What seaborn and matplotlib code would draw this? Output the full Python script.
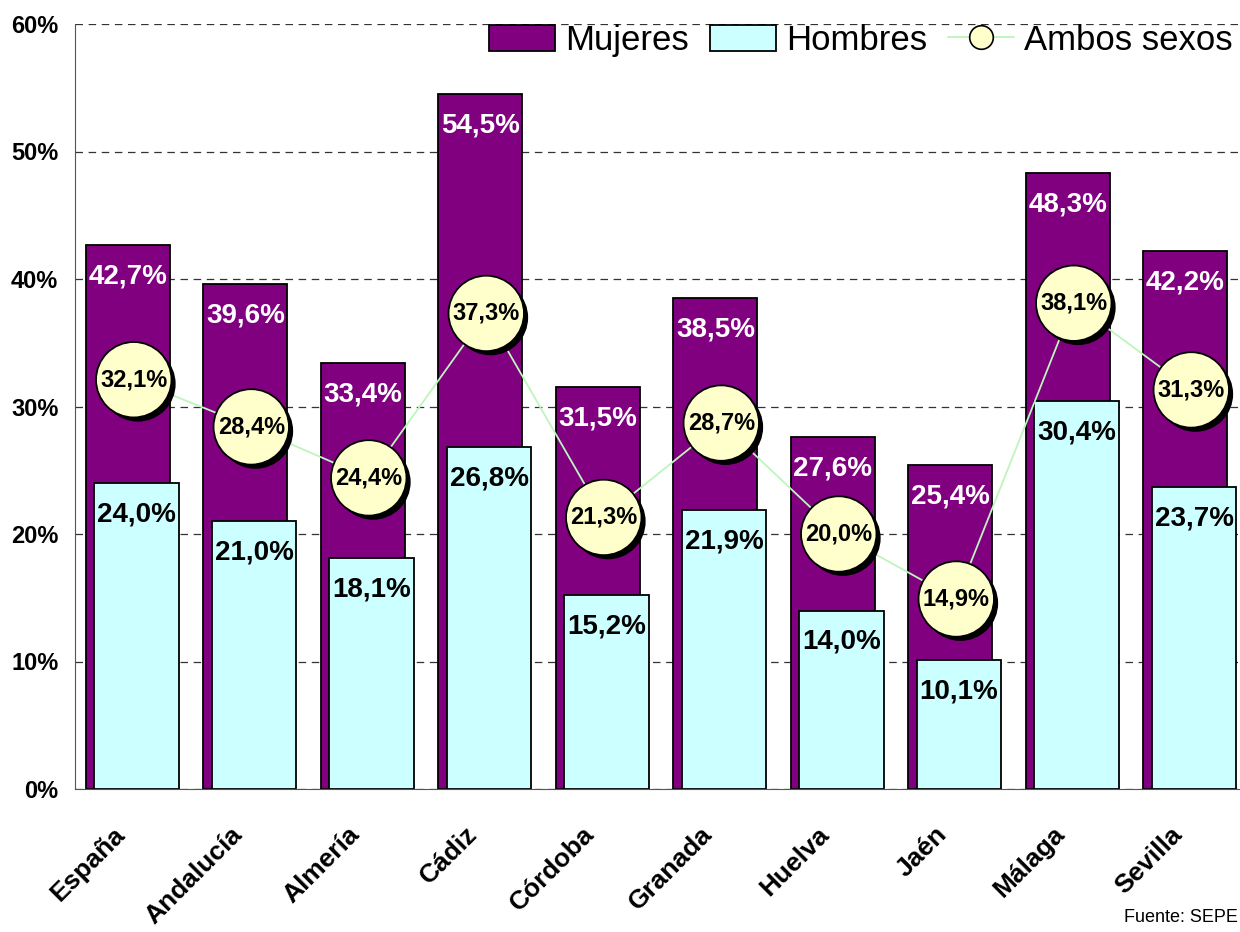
import numpy as np
import pandas as pd
import matplotlib
matplotlib.use('Agg')
import matplotlib.pyplot as plt
import matplotlib.patheffects as pe
import matplotlib.transforms as mtrans
from matplotlib.ticker import FixedLocator, FuncFormatter
from matplotlib.patches import Patch
from matplotlib.lines import Line2D
import seaborn as sns

# Datos (tasa por provincia)
provincias = ['España', 'Andalucía', 'Almería', 'Cádiz', 'Córdoba',
              'Granada', 'Huelva', 'Jaén', 'Málaga', 'Sevilla']
mujeres = [42.7, 39.6, 33.4, 54.5, 31.5, 38.5, 27.6, 25.4, 48.3, 42.2]
hombres = [24.0, 21.0, 18.1, 26.8, 15.2, 21.9, 14.0, 10.1, 30.4, 23.7]
ambos = [32.1, 28.4, 24.4, 37.3, 21.3, 28.7, 20.0, 14.9, 38.1, 31.3]

sns.set_style('white')
plt.rcParams['font.family'] = ['Liberation Sans', 'DejaVu Sans']
plt.rcParams['text.color'] = 'black'
plt.rcParams['xtick.color'] = 'black'
plt.rcParams['ytick.color'] = 'black'

pos = np.arange(len(provincias))
df = pd.DataFrame({'prov': provincias, 'pos': pos, 'Mujeres': mujeres,
                   'Hombres': hombres, 'Ambos': ambos})

fig = plt.figure(figsize=(12.4, 9.32), dpi=100)
ax = fig.add_axes([75 / 1240, 1 - 789 / 932, 1175 / 1240, 765 / 932])


def fmt(v):
    return f'{v:.1f}%'.replace('.', ',')


# barras Mujeres (detras) y Hombres (delante, desplazadas)
sns.barplot(x=df['pos'] - 0.049, y=df['Mujeres'], native_scale=True, width=0.715,
            color='#800080', saturation=1, edgecolor='black', linewidth=1.3, ax=ax)
sns.barplot(x=df['pos'] + 0.024, y=df['Hombres'], native_scale=True, width=0.72,
            color='#CCFFFF', saturation=1, edgecolor='black', linewidth=1.3, ax=ax)

ax.bar_label(ax.containers[0], labels=[fmt(v) for v in mujeres], padding=-32,
             color='white', fontweight='bold', fontsize=20)
ax.bar_label(ax.containers[1], labels=[fmt(v) for v in hombres], padding=-32,
             color='black', fontweight='bold', fontsize=20)

# linea Ambos sexos
sns.lineplot(x=df['pos'], y=df['Ambos'], color='#BDF5BD', linewidth=1.3, ax=ax,
             zorder=4)
sc = ax.scatter(df['pos'], df['Ambos'], s=2950, color='#FFFFCC', edgecolor='black',
                linewidth=1.3, zorder=5)
sc.set_path_effects([pe.SimplePatchShadow(offset=(3, -3), shadow_rgbFace='black',
                                          alpha=1), pe.Normal()])
for x, v in zip(pos, ambos):
    ax.text(x, v, fmt(v), ha='center', va='center', fontsize=17,
            fontweight='bold', color='black', zorder=6)

# ejes
ax.set_xlim(-0.5, 9.5)
ax.set_ylim(0, 60)
ax.set_yticks(range(0, 61, 10))
ax.yaxis.set_major_formatter(FuncFormatter(lambda y, _: f'{y:.0f}%'))
ax.tick_params(axis='y', length=8, width=1, color='#555555', direction='out',
               labelsize=17, labelcolor='black', pad=4)
for t in ax.get_yticklabels():
    t.set_fontweight('bold')

ax.xaxis.set_major_locator(FixedLocator(pos - 0.5))
ax.xaxis.set_major_formatter(FuncFormatter(lambda x, _: ''))
ax.xaxis.set_minor_locator(FixedLocator(pos))
ax.set_xticklabels(provincias, minor=True)
ax.tick_params(axis='x', which='major', length=8, width=1, color='#555555',
               direction='out')
ax.tick_params(axis='x', which='minor', length=0, pad=30, labelsize=19,
               labelcolor='black')
shift = mtrans.ScaledTranslation(-0.13, 0, fig.dpi_scale_trans)
for t in ax.get_xticklabels(minor=True):
    t.set_rotation(45)
    t.set_ha('right')
    t.set_va('center')
    t.set_rotation_mode('anchor')
    t.set_fontweight('bold')
    t.set_transform(t.get_transform() + shift)
ax.set_xlabel('')
ax.set_ylabel('')

ax.yaxis.grid(True, linestyle=(0, (6, 4.5)), color='#333333', linewidth=0.9)
ax.set_axisbelow(True)
sns.despine(ax=ax, top=True, right=True)
ax.spines['left'].set_color('#555555')
ax.spines['bottom'].set_color('#555555')

# leyenda
handles = [Patch(facecolor='#800080', edgecolor='black', linewidth=1.3),
           Patch(facecolor='#CCFFFF', edgecolor='black', linewidth=1.3),
           Line2D([], [], color='#BDF5BD', linewidth=1.3, marker='o',
                  markersize=17, markerfacecolor='#FFFFCC',
                  markeredgecolor='black', markeredgewidth=1.2)]
leg = fig.legend(handles, ['Mujeres', 'Hombres', 'Ambos sexos'], ncol=3,
                 loc='upper right', bbox_to_anchor=(1.0, 1 - 17 / 932),
                 frameon=False, handlelength=1.9, handleheight=0.8,
                 handletextpad=0.3, columnspacing=0.6, borderpad=0.2,
                 borderaxespad=0, fontsize=25)

fig.text(1238 / 1240, 1 - 918 / 932, 'Fuente: SEPE', fontsize=13,
         ha='right', va='center')

fig.savefig('out.png', dpi=100)
